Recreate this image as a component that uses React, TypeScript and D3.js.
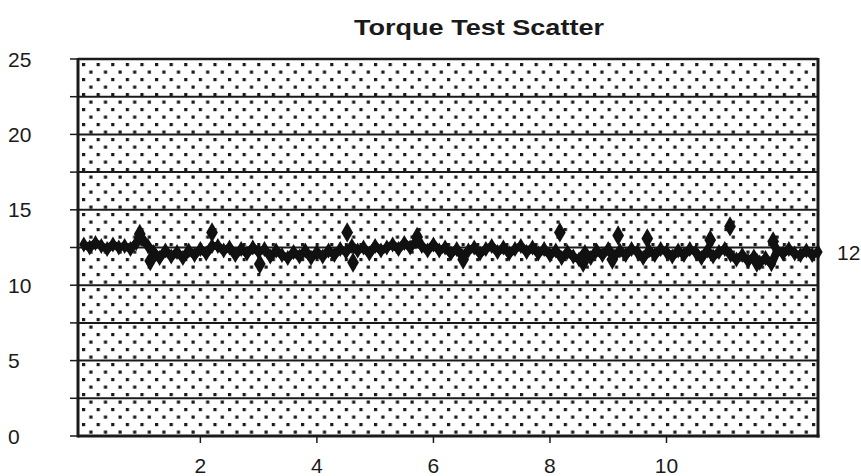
import React, { useEffect, useRef } from 'react';
import * as d3 from 'd3';

// torque readings, one every 0.1 on the x axis
const torqueValues = [
  12.7, 12.5, 12.8, 12.6, 12.4, 12.7, 12.5, 12.6, 12.4, 12.8,
  13.1, 12.6, 12.2, 11.8, 12.3, 11.9, 12.2, 11.8, 12.3, 12.0,
  12.4, 12.1, 12.6, 12.6, 12.3, 12.5, 12.0, 12.4, 12.1, 12.5,
  12.2, 12.4, 11.9, 12.3, 12.0, 11.8, 12.2, 11.9, 12.3, 11.8,
  12.2, 11.9, 12.3, 12.0, 12.4, 12.2, 12.6, 12.3, 12.5, 12.1,
  12.6, 12.3, 12.5, 12.7, 12.4, 12.8, 12.5, 12.9, 12.6, 12.3,
  12.7, 12.3, 12.5, 12.1, 12.4, 11.9, 12.3, 12.5, 12.1, 12.4,
  12.6, 12.2, 12.5, 12.1, 12.4, 12.6, 12.2, 12.5, 12.1, 12.4,
  12.0, 12.3, 11.8, 12.2, 11.9, 11.7, 12.2, 11.8, 12.3, 12.0,
  12.4, 11.9, 12.3, 12.0, 12.4, 12.2, 11.8, 12.3, 12.0, 12.4,
  12.2, 11.9, 12.3, 12.0, 12.4, 12.2, 11.8, 12.3, 11.9, 12.2,
  12.4, 12.0, 11.7, 12.0, 11.6, 11.9, 11.5, 11.8, 11.4, 12.3,
  12.1, 12.4, 12.1, 12.0, 12.3, 12.0, 12.2,
];
const sampleStep = 0.1;

// stray readings away from the band
const outlierX = [0.96, 1.14, 2.2, 3.02, 4.52, 4.62, 5.72, 6.51, 8.17, 8.57, 9.17, 9.07, 9.67, 10.75, 11.09, 11.55, 11.83];
const outlierY = [13.4, 11.6, 13.5, 11.4, 13.5, 11.5, 13.2, 11.7, 13.5, 11.5, 13.3, 11.7, 13.1, 13.0, 13.9, 11.5, 12.9];

const xTicks = [2, 4, 6, 8, 10];
const yTicks = [0, 5, 10, 15, 20, 25];
const yGrid = [2.5, 5, 7.5, 10, 12.5, 15, 17.5, 20, 22.5];
const lastLabel = '12';

const W = 861;
const H = 476;

const App = () => {
  const svgRef = useRef<SVGSVGElement | null>(null);

  useEffect(() => {
    const svg = d3.select(svgRef.current);
    svg.selectAll('*').remove();

    const left = 78, right = 818, top = 59, bottom = 436;
    const x = d3.scaleLinear().domain([-0.1, 12.6]).range([left, right]);
    const y = d3.scaleLinear().domain([0, 25]).range([bottom, top]);
    const font = "'Liberation Sans', Arial, sans-serif";
    const ink = '#1a1a1a';

    // dotted fill
    const defs = svg.append('defs');
    const pat = defs.append('pattern')
      .attr('id', 'dots')
      .attr('patternUnits', 'userSpaceOnUse')
      .attr('x', left + 4).attr('y', top + 4)
      .attr('width', 14.6).attr('height', 15);
    pat.append('rect').attr('x', 0).attr('y', 0).attr('width', 3.2).attr('height', 3.2).attr('fill', ink);
    pat.append('rect').attr('x', 7.3).attr('y', 7.5).attr('width', 3.2).attr('height', 3.2).attr('fill', ink);

    svg.append('rect')
      .attr('x', left).attr('y', top)
      .attr('width', right - left).attr('height', bottom - top)
      .attr('fill', 'url(#dots)');

    // grid lines
    svg.append('g')
      .selectAll('line')
      .data(yGrid)
      .join('line')
      .attr('x1', left).attr('x2', right)
      .attr('y1', d => y(d)).attr('y2', d => y(d))
      .attr('stroke', ink)
      .attr('stroke-width', 2);

    // frame
    svg.append('line').attr('x1', left).attr('x2', right).attr('y1', top).attr('y2', top)
      .attr('stroke', ink).attr('stroke-width', 2.5);
    svg.append('line').attr('x1', left).attr('x2', right + 1.5).attr('y1', bottom).attr('y2', bottom)
      .attr('stroke', ink).attr('stroke-width', 3);
    svg.append('line').attr('x1', left).attr('x2', left).attr('y1', top - 1).attr('y2', bottom + 1.5)
      .attr('stroke', ink).attr('stroke-width', 3);
    svg.append('line').attr('x1', right).attr('x2', right).attr('y1', top - 1).attr('y2', bottom + 1.5)
      .attr('stroke', ink).attr('stroke-width', 3);

    // y ticks (every 2.5) and labels
    svg.append('g')
      .selectAll('line')
      .data([0, ...yGrid, 25])
      .join('line')
      .attr('x1', left - 8).attr('x2', left)
      .attr('y1', d => y(d)).attr('y2', d => y(d))
      .attr('stroke', ink).attr('stroke-width', 1.5);

    svg.append('g')
      .selectAll('text')
      .data(yTicks)
      .join('text')
      .attr('x', 8)
      .attr('y', d => y(d))
      .attr('dy', '0.36em')
      .attr('font-family', font)
      .attr('font-size', 21)
      .attr('fill', ink)
      .text(d => d);

    // x ticks and labels
    svg.append('g')
      .selectAll('line')
      .data(xTicks)
      .join('line')
      .attr('x1', d => x(d)).attr('x2', d => x(d))
      .attr('y1', bottom).attr('y2', bottom + 7)
      .attr('stroke', ink).attr('stroke-width', 1.5);

    svg.append('g')
      .selectAll('text')
      .data(xTicks)
      .join('text')
      .attr('x', d => x(d))
      .attr('y', 473)
      .attr('text-anchor', 'middle')
      .attr('font-family', font)
      .attr('font-size', 21)
      .attr('fill', ink)
      .text(d => d);

    // the torque band
    const pts = torqueValues.map((v, i) => ({ t: i * sampleStep, v }));
    const line = d3.line<{ t: number, v: number }>()
      .x(d => x(d.t))
      .y(d => y(d.v));

    svg.append('path')
      .datum(pts)
      .attr('fill', 'none')
      .attr('stroke', '#111')
      .attr('stroke-width', 8)
      .attr('stroke-linejoin', 'round')
      .attr('d', line);

    const diamond = d3.symbol().type(d3.symbolDiamond);
    svg.append('g')
      .selectAll('path')
      .data(pts)
      .join('path')
      .attr('transform', d => `translate(${x(d.t)},${y(d.v)})`)
      .attr('d', diamond.size(75)())
      .attr('fill', '#111');

    svg.append('g')
      .selectAll('path')
      .data(outlierX.map((t, i) => ({ t, v: outlierY[i] })))
      .join('path')
      .attr('transform', d => `translate(${x(d.t)},${y(d.v)})`)
      .attr('d', d3.symbol().type(d3.symbolDiamond).size(120)())
      .attr('fill', '#111');

    // value label at the end of the series
    const last = pts[pts.length - 1];
    svg.append('text')
      .attr('x', 837)
      .attr('y', y(last.v))
      .attr('dy', '0.36em')
      .attr('font-family', font)
      .attr('font-size', 21)
      .attr('fill', ink)
      .text(lastLabel);

    // title
    svg.append('text')
      .attr('x', 354)
      .attr('y', 35)
      .attr('font-family', font)
      .attr('font-size', 22)
      .attr('font-weight', 'bold')
      .attr('fill', ink)
      .attr('textLength', 250)
      .attr('lengthAdjust', 'spacingAndGlyphs')
      .text('Torque Test Scatter');
  }, []);

  return (
    <svg ref={svgRef} width={W} height={H}
      style={{ position: 'absolute', left: 0, top: 0, background: '#fff' }}></svg>
  );
};

export default App;
